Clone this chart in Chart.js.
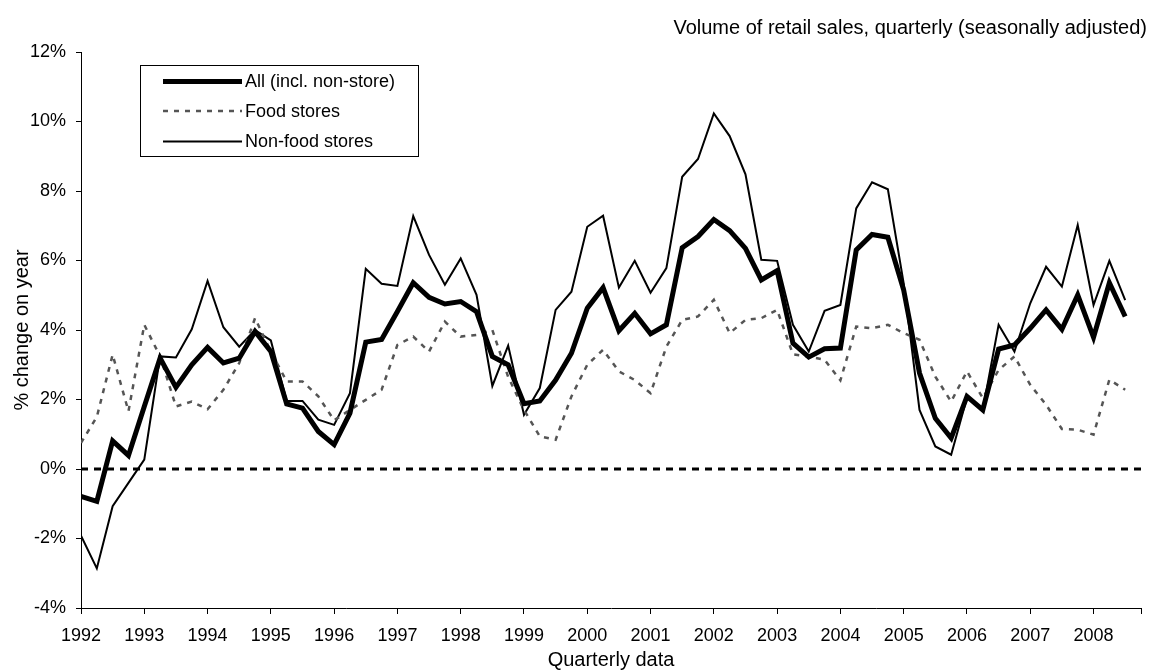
<!DOCTYPE html>
<html>
<head>
<meta charset="utf-8">
<script src="https://cdn.jsdelivr.net/npm/chart.js@4/dist/chart.umd.min.js"></script>
<style>
  body { margin: 0; background: #fff; }
</style>
</head>
<body>
<canvas id="myChart" width="1152" height="671"></canvas>
<script>
// tick labels on the x axis (one per year, every 4th quarter)
var years = [1992, 1993, 1994, 1995, 1996, 1997, 1998, 1999, 2000, 2001, 2002, 2003, 2004, 2005, 2006, 2007, 2008];

// quarterly % change on year, 1992 Q1 .. 2008 Q3
var allStores = [-0.79, -0.93, 0.81, 0.39, 1.8, 3.19, 2.35, 3.0, 3.5, 3.05, 3.19, 3.96, 3.38, 1.87, 1.75, 1.08,
    0.70, 1.61, 3.65, 3.73, 4.53, 5.36, 4.94, 4.75, 4.82, 4.53, 3.24, 3.0, 1.88, 1.96, 2.56, 3.33,
    4.63, 5.22, 3.98, 4.48, 3.89, 4.15, 6.37, 6.69, 7.18, 6.86, 6.35, 5.44, 5.71, 3.62, 3.22, 3.46,
    3.48, 6.30, 6.75, 6.67, 5.15, 2.76, 1.46, 0.89, 2.09, 1.70, 3.45, 3.57, 4.05, 4.58, 4.02, 5.01,
    3.79, 5.36, 4.39];
var foodStores = [0.75, 1.5, 3.29, 1.66, 4.15, 3.24, 1.80, 1.94, 1.72, 2.28, 3.05, 4.34, 3.38, 2.52, 2.52, 2.09,
    1.40, 1.70, 1.99, 2.28, 3.57, 3.81, 3.38, 4.24, 3.81, 3.86, 4.0, 2.65, 1.70, 0.94, 0.84, 2.09,
    3.0, 3.43, 2.81, 2.56, 2.18, 3.52, 4.29, 4.39, 4.87, 3.91, 4.29, 4.34, 4.58, 3.30, 3.24, 3.14,
    2.55, 4.10, 4.05, 4.15, 3.91, 3.72, 2.66, 1.94, 2.81, 2.04, 2.85, 3.24, 2.42, 1.85, 1.15, 1.13,
    0.99, 2.57, 2.28];
var nonFoodStores = [-1.92, -2.86, -1.07, -0.40, 0.27, 3.24, 3.21, 4.02, 5.41, 4.08, 3.52, 4.0, 3.70, 1.96, 1.96, 1.42,
    1.27, 2.18, 5.76, 5.33, 5.27, 7.28, 6.16, 5.30, 6.06, 5.01, 2.39, 3.55, 1.56, 2.33, 4.58, 5.10,
    6.97, 7.29, 5.22, 5.99, 5.07, 5.78, 8.41, 8.92, 10.23, 9.58, 8.48, 6.02, 5.99, 4.15, 3.38, 4.55,
    4.72, 7.50, 8.25, 8.05, 5.34, 1.70, 0.65, 0.41, 2.05, 1.70, 4.15, 3.38, 4.77, 5.82, 5.25, 7.02,
    4.72, 5.99, 4.86];

var chartTitle = 'Volume of retail sales, quarterly (seasonally adjusted)';
var fontFamily = '"Liberation Sans", Arial, Helvetica, sans-serif';

function toPoints(values) {
    return values.map(function (v, i) { return { x: i, y: v }; });
}

var lastQuarter = allStores.length; // axis runs one quarter past the last point

Chart.defaults.font.family = fontFamily;
Chart.defaults.color = '#000';

// title and boxed legend drawn on top of the chart
var overlay = {
    id: 'overlay',
    afterDraw: function (chart) {
        var ctx = chart.ctx;
        ctx.save();
        ctx.fillStyle = '#000';
        ctx.font = '20px ' + fontFamily;
        ctx.textAlign = 'right';
        ctx.textBaseline = 'middle';
        ctx.fillText(chartTitle, 1147, 28);

        ctx.fillStyle = '#fff';
        ctx.fillRect(140.5, 65.5, 278, 91);
        ctx.strokeStyle = '#000';
        ctx.lineWidth = 1;
        ctx.setLineDash([]);
        ctx.strokeRect(140.5, 65.5, 278, 91);

        var rows = [81.5, 111, 141.5];
        ctx.font = '18px ' + fontFamily;
        ctx.textAlign = 'left';
        for (var i = 0; i < 3; i++) {
            var ds = chart.data.datasets[i];
            ctx.beginPath();
            ctx.strokeStyle = ds.borderColor;
            ctx.lineWidth = ds.borderWidth;
            ctx.setLineDash(ds.borderDash || []);
            ctx.moveTo(163, rows[i]);
            ctx.lineTo(242, rows[i]);
            ctx.stroke();
            ctx.fillStyle = '#000';
            ctx.fillText(ds.label, 245, rows[i] + 1);
        }
        ctx.restore();
    }
};

var ctx = document.getElementById('myChart').getContext('2d');
var chart = new Chart(ctx, {
    type: 'line',
    data: {
        datasets: [{
            label: 'All (incl. non-store)',
            data: toPoints(allStores),
            borderColor: '#000',
            borderWidth: 5,
            pointRadius: 0,
            tension: 0
        }, {
            label: 'Food stores',
            data: toPoints(foodStores),
            borderColor: '#555',
            borderWidth: 2.5,
            borderDash: [5, 6],
            pointRadius: 0,
            tension: 0
        }, {
            label: 'Non-food stores',
            data: toPoints(nonFoodStores),
            borderColor: '#000',
            borderWidth: 2,
            pointRadius: 0,
            tension: 0
        }, {
            label: 'zero',
            data: [{ x: 0, y: 0 }, { x: lastQuarter, y: 0 }],
            borderColor: '#000',
            borderWidth: 3,
            borderDash: [7, 6],
            pointRadius: 0,
            tension: 0
        }]
    },
    options: {
        responsive: false,
        animation: false,
        layout: { padding: { top: 52, right: 10, left: 0, bottom: 0 } },
        plugins: {
            legend: { display: false },
            title: { display: false },
            tooltip: { enabled: false }
        },
        scales: {
            x: {
                type: 'linear',
                min: 0,
                max: lastQuarter,
                afterFit: function (scale) { scale.height = 63; },
                border: { display: true, color: '#000', width: 1 },
                grid: { display: true, drawOnChartArea: false, drawTicks: true, tickLength: 6, color: '#000' },
                ticks: {
                    stepSize: 4,
                    autoSkip: false,
                    maxRotation: 0,
                    padding: 11,
                    font: { size: 18 },
                    callback: function (v) { return years[v / 4] !== undefined ? String(years[v / 4]) : ''; }
                },
                title: { display: true, text: 'Quarterly data', font: { size: 20 }, padding: { top: 0, bottom: -1 } }
            },
            y: {
                min: -4,
                max: 12,
                afterFit: function (scale) { scale.width = 81; },
                border: { display: true, color: '#000', width: 1 },
                grid: { display: true, drawOnChartArea: false, drawTicks: true, tickLength: 5, color: '#000' },
                ticks: {
                    stepSize: 2,
                    padding: 10,
                    font: { size: 18 },
                    callback: function (v) { return v + '%'; }
                },
                title: { display: true, text: '% change on year', font: { size: 20 }, padding: { top: 10, bottom: 0 } }
            }
        }
    },
    plugins: [overlay]
});
</script>
</body>
</html>
